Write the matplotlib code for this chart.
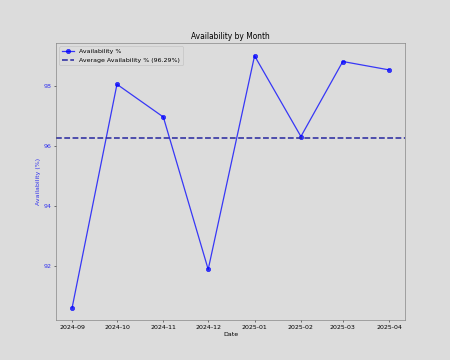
import matplotlib
matplotlib.use("Agg")
import matplotlib.pyplot as plt
import pandas as pd
import numpy as np

months = ["2024-09", "2024-10", "2024-11", "2024-12", "2025-01", "2025-02", "2025-03", "2025-04"]
availability = [90.62, 98.07, 96.98, 91.90, 99.02, 96.33, 98.83, 98.55]

dates = pd.to_datetime(months)
avg = np.mean(availability)

bg = "#dcdcdc"
fig, ax = plt.subplots(figsize=(10, 8), dpi=45)
fig.patch.set_facecolor(bg)
ax.set_facecolor(bg)

ax.plot(dates, availability, color="blue", marker="o", markersize=7, linewidth=2,
        alpha=0.75, markerfacecolor="blue", markeredgecolor="blue", label="Availability %")
ax.axhline(avg, color="#2a2aa0", linestyle="--", linewidth=2.5,
           label=f"Average Availability % ({avg:.2f}%)")

ax.set_title("Availability by Month")
ax.set_xlabel("Date")
ax.set_ylabel("Availability (%)", color="#3333ee")
ax.tick_params(axis="y", labelcolor="#3333ee")
ax.set_xticks(dates)
ax.set_xticklabels(months)
ax.set_yticks([92, 94, 96, 98])
for s in ax.spines.values():
    s.set_color("#666666")

leg = ax.legend(loc="upper left", facecolor=bg, edgecolor="#bbbbbb")

plt.savefig("out.png", facecolor=bg)
